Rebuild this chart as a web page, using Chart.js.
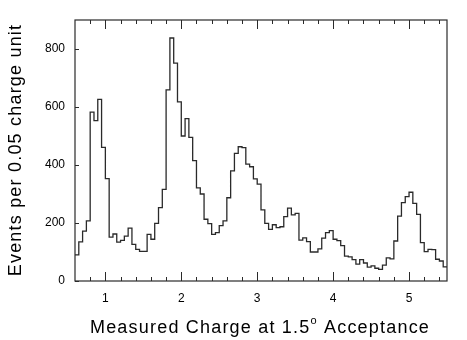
<!DOCTYPE html>
<html>
<head>
<meta charset="utf-8">
<script src="https://cdn.jsdelivr.net/npm/chart.js@4.4.0/dist/chart.umd.min.js"></script>
<style>
  html, body { margin: 0; padding: 0; background: #fff; }
  #wrap { width: 467px; height: 340px; }
</style>
</head>
<body>
<div id="wrap"><canvas id="chargeChart" width="467" height="340"></canvas></div>
<script>
// histogram: events per 0.05 charge unit, bins start at 0.60
const binStart = 0.6;
const binWidth = 0.05;
const counts = [
    90, 135, 172, 207, 582, 553, 626, 461, 353, 151,
    162, 134, 140, 155, 182, 126, 109, 102, 102, 161,
    144, 199, 253, 316, 659, 838, 751, 618, 500, 560,
    495, 415, 321, 300, 213, 198, 161, 167, 191, 207,
    287, 380, 440, 463, 460, 403, 394, 352, 334, 245,
    199, 178, 194, 184, 187, 222, 251, 228, 233, 141,
    149, 136, 100, 100, 111, 148, 167, 174, 144, 139,
    122, 86, 83, 74, 58, 74, 62, 48, 52, 44,
    40, 55, 80, 76, 138, 224, 270, 291, 306, 268,
    230, 132, 101, 109, 108, 75, 69, 49
];
const xMajorTicks = [1, 2, 3, 4, 5];
const xMinorTicks = [0.8, 1.2, 1.4, 1.6, 1.8, 2.2, 2.4, 2.6, 2.8, 3.2, 3.4, 3.6, 3.8, 4.2, 4.4, 4.6, 4.8, 5.2, 5.4];
const yTicks = [0, 200, 400, 600, 800];
const yTitle = "Events per 0.05 charge unit";
const xTitleParts = ["Measured Charge at 1.5", "o", " Acceptance"]; // middle part is a superscript

// bin left edges + closing edge
const points = counts.map((c, i) => ({ x: +(binStart + i * binWidth).toFixed(2), y: c }));
points.push({ x: +(binStart + counts.length * binWidth).toFixed(2), y: counts[counts.length - 1] });

const ink = "#2a2a2a";
const fontFam = "'Liberation Sans', Arial, sans-serif";

// frame, inward tick marks and the two spaced-out axis titles
const frameTicks = {
    id: "frameTicks",
    afterDraw(chart) {
        const { ctx, chartArea: a, scales } = chart;
        const xs = scales.x, ys = scales.y;
        ctx.save();
        ctx.strokeStyle = ink;
        ctx.lineWidth = 1.2;
        ctx.strokeRect(a.left, a.top, a.right - a.left, a.bottom - a.top);
        ctx.lineWidth = 1;
        ctx.beginPath();
        const tickX = (v, len) => {
            const px = Math.round(xs.getPixelForValue(v)) + 0.5;
            ctx.moveTo(px, a.bottom); ctx.lineTo(px, a.bottom - len);
            ctx.moveTo(px, a.top); ctx.lineTo(px, a.top + len);
        };
        xMajorTicks.forEach(v => tickX(v, 9));
        xMinorTicks.forEach(v => tickX(v, 4));
        yTicks.forEach(v => {
            const py = Math.round(ys.getPixelForValue(v)) + 0.5;
            ctx.moveTo(a.left, py); ctx.lineTo(a.left + 4, py);
        });
        ctx.stroke();

        ctx.fillStyle = "#000";
        ctx.letterSpacing = "1.2px";
        ctx.textBaseline = "middle";
        ctx.font = "18px " + fontFam;

        // y title, rotated
        ctx.save();
        ctx.translate(16, 150);
        ctx.rotate(-Math.PI / 2);
        ctx.textAlign = "center";
        ctx.fillText(yTitle, 0, 0);
        ctx.restore();

        // x title with superscript o
        ctx.textAlign = "left";
        const big = "18px " + fontFam, small = "11px " + fontFam;
        ctx.font = big;
        const w0 = ctx.measureText(xTitleParts[0]).width;
        const w2 = ctx.measureText(xTitleParts[2]).width;
        ctx.font = small;
        const w1 = ctx.measureText(xTitleParts[1]).width;
        let x = 260 - (w0 + w1 + w2) / 2;
        const y = 328;
        ctx.font = big;
        ctx.fillText(xTitleParts[0], x, y);
        x += w0;
        ctx.font = small;
        ctx.fillText(xTitleParts[1], x, y - 7);
        x += w1;
        ctx.font = big;
        ctx.fillText(xTitleParts[2], x, y);
        ctx.restore();
    }
};

const ctx = document.getElementById("chargeChart").getContext("2d");
new Chart(ctx, {
    type: "line",
    data: {
        datasets: [{
            data: points,
            stepped: "before",
            borderColor: ink,
            borderWidth: 1.3,
            pointRadius: 0,
            fill: false,
        }],
    },
    options: {
        responsive: false,
        animation: false,
        layout: { padding: { top: 20, right: 20, left: 0, bottom: 0 } },
        plugins: { legend: { display: false }, tooltip: { enabled: false } },
        scales: {
            x: {
                type: "linear",
                min: 0.6,
                max: 5.5,
                afterBuildTicks: s => { s.ticks = xMajorTicks.map(v => ({ value: v })); },
                afterFit: s => { s.height = 59; },
                grid: { display: false, drawTicks: false },
                border: { display: false },
                ticks: {
                    padding: 10,
                    color: "#000",
                    font: { family: fontFam, size: 12 },
                    callback: v => String(v),
                },
            },
            y: {
                min: 0,
                max: 900,
                afterBuildTicks: s => { s.ticks = yTicks.map(v => ({ value: v })); },
                afterFit: s => { s.width = 75; },
                grid: { display: false, drawTicks: false },
                border: { display: false },
                ticks: {
                    padding: 10,
                    color: "#000",
                    font: { family: fontFam, size: 12 },
                },
            },
        },
    },
    plugins: [frameTicks],
});
</script>
</body>
</html>
